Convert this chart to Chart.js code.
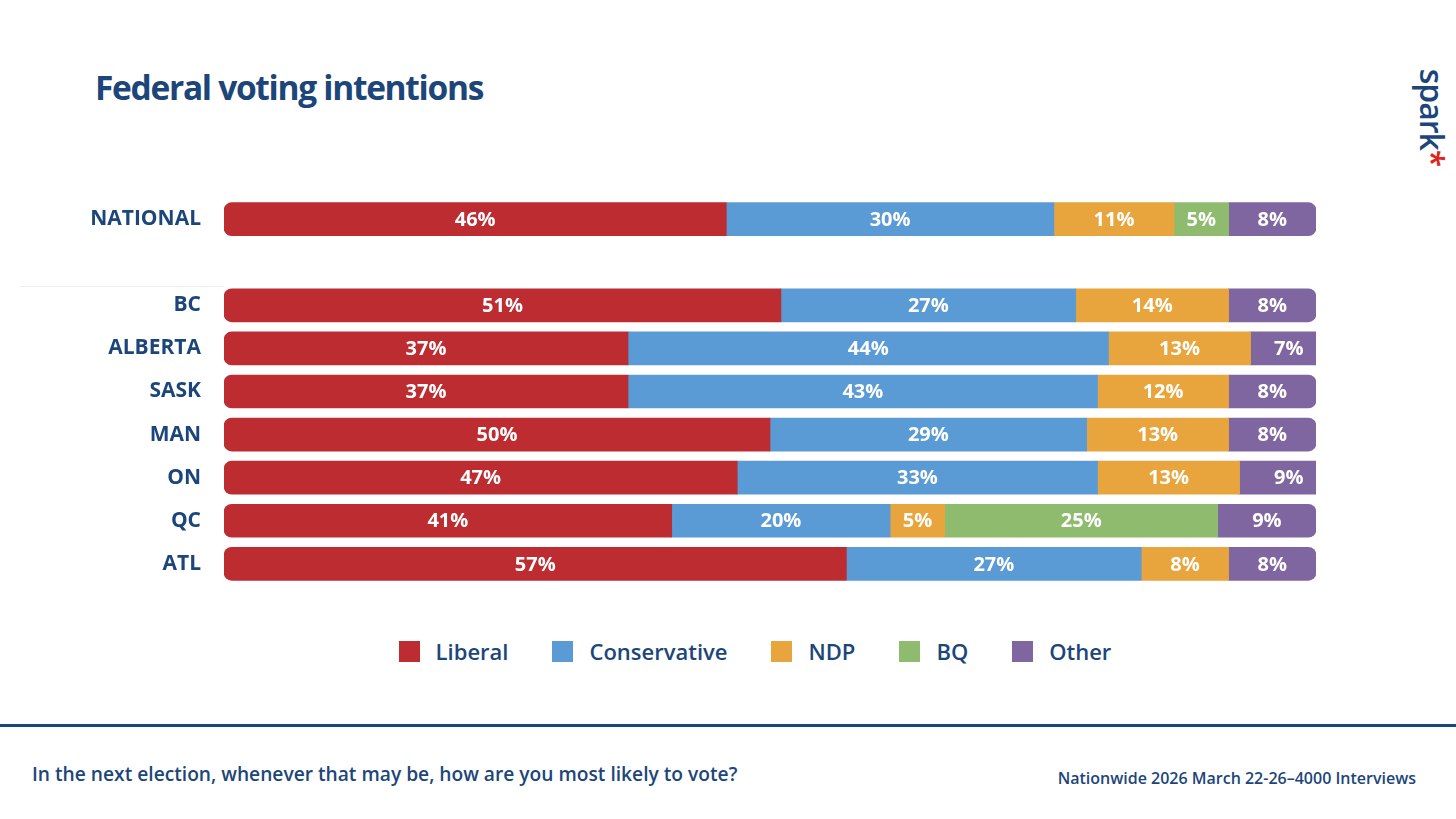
<!DOCTYPE html>
<html>
<head>
<meta charset="utf-8">
<script src="https://cdn.jsdelivr.net/npm/chart.js@4"></script>
<style>
  body { margin:0; width:1456px; height:819px; background:#fff; position:relative; overflow:hidden; font-family:"Open Sans", sans-serif; color:#1C4679; }
  #title { position:absolute; left:95px; top:64px; font-size:33.5px; font-weight:700; letter-spacing:-1.3px; }
  #logo { position:absolute; left:1384px; top:96px; transform:rotate(90deg); font-size:32px; font-weight:600; letter-spacing:-1px; }
  #logo span { color:#E2231A; }
  #chart { position:absolute; left:0; top:170px; }
  #sep { position:absolute; left:20px; top:286px; width:204px; height:1px; background:#eee; }
  #legend { position:absolute; top:636px; left:0; width:1510px; display:flex; justify-content:center; gap:44px; font-size:22px; font-weight:600; }
  #legend div { display:flex; align-items:center; }
  #legend i { display:inline-block; width:21px; height:21px; margin-right:16px; }
  #rule { position:absolute; left:0; top:724px; width:1456px; height:3px; background:#1C4679; }
  #q { position:absolute; left:32px; top:760px; font-size:19.2px; font-weight:600; }
  #src { position:absolute; right:40px; top:767px; font-size:16px; font-weight:600; }
</style>
</head>
<body>
<div id="title">Federal voting intentions</div>
<div id="logo">spark<span>*</span></div>
<div id="sep"></div>
<canvas id="chart" width="1322" height="443"></canvas>
<div id="legend"></div>
<div id="rule"></div>
<div id="q">In the next election, whenever that may be, how are you most likely to vote?</div>
<div id="src">Nationwide 2026 March 22-26–4000 Interviews</div>
<script>
const regions = ['NATIONAL', '', 'BC', 'ALBERTA', 'SASK', 'MAN', 'ON', 'QC', 'ATL'];
const parties = ['Liberal', 'Conservative', 'NDP', 'BQ', 'Other'];
const colors = ['#BC2C31', '#5B9BD5', '#E8A53E', '#8FBB6E', '#7F66A0'];
const liberal      = [46, null, 51, 37, 37, 50, 47, 41, 57];
const conservative = [30, null, 27, 44, 43, 29, 33, 20, 27];
const ndp          = [11, null, 14, 13, 12, 13, 13, 5, 8];
const bq           = [5, null, 0, 0, 0, 0, 0, 25, 0];
const other        = [8, null, 8, 7, 8, 8, 9, 9, 8];
const series = [liberal, conservative, ndp, bq, other];

const legend = document.getElementById('legend');
parties.forEach((p, i) => {
  const d = document.createElement('div');
  d.innerHTML = '<i style="background:' + colors[i] + '"></i>' + p;
  legend.appendChild(d);
});

const R = 8;
const labelPlugin = {
  id: 'vals',
  afterDatasetsDraw(chart) {
    const ctx = chart.ctx;
    ctx.save();
    ctx.fillStyle = '#fff';
    ctx.font = '700 20px "Open Sans"';
    ctx.textAlign = 'center';
    ctx.textBaseline = 'middle';
    chart.data.datasets.forEach((ds, di) => {
      chart.getDatasetMeta(di).data.forEach((el, i) => {
        const v = ds.data[i];
        if (!v) return;
        ctx.fillText(v + '%', (el.x + el.base) / 2, el.y + 1);
      });
    });
    ctx.restore();
  }
};

new Chart(document.getElementById('chart'), {
  type: 'bar',
  data: {
    labels: regions,
    datasets: series.map((s, k) => ({
      label: parties[k],
      data: s,
      backgroundColor: colors[k],
      barThickness: 33,
      borderSkipped: false,
      borderRadius: (c) => {
        const i = c.dataIndex;
        let last = 4;
        while (last > 0 && !series[last][i]) last--;
        return {
          topLeft: k === 0 ? R : 0, bottomLeft: k === 0 ? R : 0,
          topRight: k === last ? R : 0, bottomRight: k === last ? R : 0
        };
      }
    }))
  },
  options: {
    indexAxis: 'y',
    responsive: false,
    animation: false,
    layout: { padding: { top: 0, bottom: 0, right: 6 } },
    plugins: { legend: { display: false }, tooltip: { enabled: false } },
    scales: {
      x: { stacked: true, min: 0, max: 100, display: false },
      y: {
        stacked: true,
        grid: { display: false },
        border: { display: false },
        ticks: { color: '#1C4679', font: { size: 21, weight: '700', family: 'Open Sans' }, padding: 15 },
        afterFit: (s) => { s.width = 224; }
      }
    }
  },
  plugins: [labelPlugin]
});
</script>
</body>
</html>
